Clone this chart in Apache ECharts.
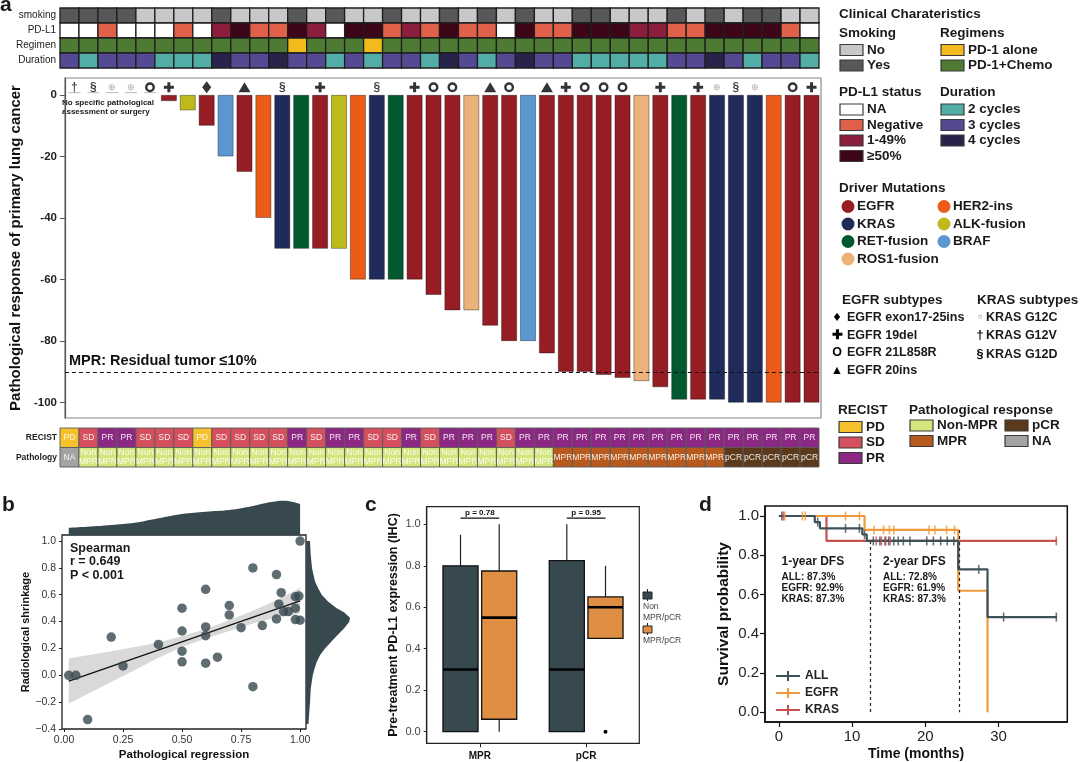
<!DOCTYPE html>
<html><head><meta charset="utf-8">
<script src="https://cdn.jsdelivr.net/npm/echarts@6/dist/echarts.min.js"></script>
<style>html,body{margin:0;padding:0;background:#fff}#c{width:1080px;height:762px}</style>
</head><body><div id="c"></div>
<script>
const FONT = 'Arial, "Liberation Sans", Helvetica, sans-serif';

// ================= Panel a data =================
const patients = ['P01','P02','P03','P04','P05','P06','P07','P08','P09','P10','P11','P12','P13','P14','P15','P16','P17','P18','P19','P20',
                  'P21','P22','P23','P24','P25','P26','P27','P28','P29','P30','P31','P32','P33','P34','P35','P36','P37','P38','P39','P40'];
const clinRowLabels = ['smoking','PD-L1','Regimen','Duration'];
const smoking = ['Yes','Yes','Yes','Yes','No','No','No','No','Yes','No','No','No','Yes','No','Yes','No','No','Yes','No','No',
                 'Yes','No','Yes','No','Yes','No','No','Yes','Yes','No','No','No','Yes','No','Yes','No','Yes','Yes','No','No'];
const pdl1 = ['NA','NA','Neg','NA','NA','NA','Neg','NA','Low','High','Neg','Neg','High','Low','NA','High','High','Neg','Low','Neg',
              'High','Neg','Neg','NA','High','Neg','Neg','High','High','High','Low','Low','Neg','Neg','High','High','High','High','Neg','NA'];
const regimen = ['Chemo','Chemo','Chemo','Chemo','Chemo','Chemo','Chemo','Chemo','Chemo','Chemo','Chemo','Chemo','Alone','Chemo','Chemo','Chemo','Alone','Chemo','Chemo','Chemo',
                 'Chemo','Chemo','Chemo','Chemo','Chemo','Chemo','Chemo','Chemo','Chemo','Chemo','Chemo','Chemo','Chemo','Chemo','Chemo','Chemo','Chemo','Chemo','Chemo','Chemo'];
const duration = [3,2,3,3,3,2,2,2,4,3,3,4,3,3,2,3,2,3,3,2,
                  4,3,2,3,4,3,3,2,2,2,2,2,3,3,4,3,2,3,3,2];
const recistRowLabels = ['RECIST','Pathology'];
const recist = ['PD','SD','PR','PR','SD','SD','SD','PD','SD','SD','SD','SD','PR','SD','PR','PR','SD','SD','PR','SD',
                'PR','PR','PR','SD','PR','PR','PR','PR','PR','PR','PR','PR','PR','PR','PR','PR','PR','PR','PR','PR'];
const pathology = ['NA','Non','Non','Non','Non','Non','Non','Non','Non','Non','Non','Non','Non','Non','Non','Non','Non','Non','Non','Non',
                   'Non','Non','Non','Non','Non','Non','MPR','MPR','MPR','MPR','MPR','MPR','MPR','MPR','MPR','pCR','pCR','pCR','pCR','pCR'];
const mutation = [null,null,null,null,null,'EGFR','ALK','EGFR','BRAF','EGFR','HER2','KRAS','RET','EGFR','ALK','HER2','KRAS','RET','EGFR','EGFR',
                  'EGFR','ROS1','EGFR','EGFR','BRAF','EGFR','EGFR','EGFR','EGFR','EGFR','ROS1','EGFR','RET','EGFR','KRAS','KRAS','KRAS','HER2','EGFR','EGFR'];
const response = [null,null,null,null,null,-2,-5,-10,-20,-25,-40,-50,-50,-50,-50,-60,-60,-60,-60,-65,
                  -70,-70,-75,-80,-80,-84,-90,-90,-91,-92,-93,-95,-99,-99,-99,-100,-100,-100,-100,-100];
const subtype = ['dagger','section','g12c','g12c','ring','plus',null,'diamond',null,'triangle',null,'section',null,'plus',null,null,'section',null,'plus','ring',
                 'ring',null,'triangle','ring',null,'triangle','plus','ring','ring','ring',null,'plus',null,'plus','g12c','section','g12c',null,'ring','plus'];
const MPR_THRESHOLD = -90;
const waterfallTicks = [-100,-80,-60,-40,-20,0];

// ================= Panel b data =================
const regX = [0.02,0.05,0.10,0.20,0.25,0.40,0.50,0.50,0.50,0.50,0.60,0.60,0.60,0.60,0.65,0.70,0.70,0.75,0.80,0.80,0.84,0.90,0.90,0.91,0.92,0.93,0.95,0.98,0.98,0.995,0.98,1.0,1.0];
const regY = [0.0,0.0,-0.33,0.285,0.07,0.23,0.50,0.33,0.18,0.10,0.64,0.36,0.295,0.09,0.135,0.52,0.45,0.355,0.80,-0.085,0.37,0.75,0.42,0.53,0.615,0.475,0.475,0.50,0.585,0.59,0.415,0.41,1.0];
const fitX = [0.02,1.0];
const fitY = [-0.043,0.555];
const bandX = [0.02,0.1,0.2,0.3,0.4,0.5,0.6,0.7,0.8,0.9,1.0];
const bandUpper = [0.125,0.15,0.18,0.21,0.245,0.29,0.345,0.41,0.48,0.56,0.65];
const bandLower = [-0.21,-0.14,-0.05,0.04,0.13,0.21,0.275,0.33,0.385,0.43,0.46];
const topDensX = [0.02,0.1,0.2,0.3,0.4,0.5,0.6,0.7,0.8,0.87,0.93,0.97,1.0];
const topDensV = [7.3,8.3,10,12.3,16.7,21,23.3,25,29,32.7,34.3,33,31];
const rightDensY = [1.0,0.9,0.8,0.7,0.65,0.6,0.55,0.5,0.47,0.43,0.4,0.35,0.3,0.25,0.2,0.15,0.1,0.05,0.0,-0.1,-0.2,-0.3,-0.36];
const rightDensV = [4,4.7,6,9,12,15.7,22,30.7,38,44,43.3,38,31.3,25,19,14,10.7,8.5,6.7,4.7,4,3,2.5];
const regXTicks = [0,0.25,0.5,0.75,1];
const regYTicks = [-0.4,-0.2,0,0.2,0.4,0.6,0.8,1.0];

// ================= Panel c data =================
const boxCats = ['MPR','pCR'];
const boxGroups = ['Non\nMPR/pCR','MPR/pCR'];
// [min, Q1, median, Q3, max]
const boxNon = [[0,0,0.30,0.80,0.95],[0,0,0.30,0.825,1.0]];
const boxMpr = [[0,0.06,0.55,0.775,1.0],[0.45,0.45,0.60,0.65,0.80]];
const boxOutliers = [[1,1,0.0]];
const pvals = ['p = 0.78','p = 0.95'];
const PBAR_Y = 1.03;
const boxYTicks = [0,0.2,0.4,0.6,0.8,1.0];

// ================= Panel d data =================
const kmAll = [[0,1],[4.9,0.969],[5.6,0.937],[11.4,0.906],[12.0,0.873],[24.5,0.728],[28.5,0.485],[38.0,0.485]];
const kmEgfr = [[0,1],[11.7,0.929],[24.5,0.619],[28.5,0.0]];
const kmKras = [[0,1],[6.5,0.873],[38.0,0.873]];
const censAll = [[0.4,1],[5.3,0.969],[9.1,0.937],[11.0,0.937],[11.7,0.906],[12.9,0.873],[13.8,0.873],[14.5,0.873],[15.0,0.873],[15.7,0.873],[16.3,0.873],[17.0,0.873],[17.9,0.873],[20.2,0.873],[21.1,0.873],[22.1,0.873],[23.0,0.873],[23.9,0.873],[27.3,0.728],[30.7,0.485],[37.9,0.485]];
const censEgfr = [[0.8,1],[3.2,1],[3.6,1],[9.1,1],[11.0,1],[13.0,0.929],[14.3,0.929],[15.1,0.929],[15.7,0.929],[20.5,0.929],[21.3,0.929],[22.9,0.929],[24.0,0.929]];
const censKras = [[0.6,1],[13.3,0.873],[14.0,0.873],[14.6,0.873],[15.2,0.873],[37.9,0.873]];
const landmarks = [[12.5,0.873],[24.6,0.929]];
const kmXTicks = [0,10,20,30];
const kmYTicks = [0,0.2,0.4,0.6,0.8,1.0];
const dfs1 = ['1-year DFS','ALL: 87.3%','EGFR: 92.9%','KRAS: 87.3%'];
const dfs2 = ['2-year DFS','ALL: 72.8%','EGFR: 61.9%','KRAS: 87.3%'];

// ================= Colours =================
const COLORS = {
  smoking: {No:'#C8C8C8', Yes:'#585858'},
  pdl1: {NA:'#FFFFFF', Neg:'#E1604A', Low:'#8C1D3C', High:'#3D0518'},
  regimen: {Alone:'#F3BA1E', Chemo:'#4E7B33'},
  duration: {2:'#51ADA6', 3:'#534A93', 4:'#27234A'},
  recist: {PD:'#F5C12C', SD:'#D4505F', PR:'#8D2784'},
  pathology: {Non:'#D4E57B', MPR:'#B85A1D', pCR:'#5B3A1B', NA:'#A3A3A3'},
  mutation: {EGFR:'#961D23', KRAS:'#1F2B5B', RET:'#03592F', ROS1:'#EBB27A', HER2:'#EA5C18', ALK:'#BEBA1B', BRAF:'#5D97D1'}
};
const SLATE = '#37494F', ORANGE = '#DF8F44';
const KM_COL = {ALL:'#3E5158', EGFR:'#EE9A3A', KRAS:'#C8504F'};

// ================= Legend definitions =================
const legSmoking = [['No','No'],['Yes','Yes']];
const legRegimen = [['PD-1 alone','Alone'],['PD-1+Chemo','Chemo']];
const legPdl1 = [['NA','NA'],['Negative','Neg'],['1-49%','Low'],['≥50%','High']];
const legDuration = [['2 cycles',2],['3 cycles',3],['4 cycles',4]];
const legMut = [['EGFR','EGFR',0,0],['HER2-ins','HER2',1,0],['KRAS','KRAS',0,1],['ALK-fusion','ALK',1,1],['RET-fusion','RET',0,2],['BRAF','BRAF',1,2],['ROS1-fusion','ROS1',0,3]];
const legEgfrSub = [['♦','EGFR exon17-25ins',14],['✚','EGFR 19del',13],['O','EGFR 21L858R',12.5],['▲','EGFR 20ins',12.5]];
const legKrasSub = [['◦','KRAS G12C',14],['†','KRAS G12V',12.5],['§','KRAS G12D',12.5]];
const legRecist = [['PD','PD'],['SD','SD'],['PR','PR']];
const legPath = [['Non-MPR','Non',0,0],['MPR','MPR',0,1],['pCR','pCR',1,0],['NA','NA',1,1]];

// ================= Graphic helpers =================
const G = [];
function txt(x, y, s, size, weight, color, align, lh) {
  G.push({type:'text', x:x, y:y, silent:true, style:{text:s, fontSize:size, fontWeight:weight||'bold', fontFamily:FONT,
    fill:color||'#1a1a1a', align:align||'left', textAlign:align||'left', verticalAlign:'middle', textVerticalAlign:'middle', lineHeight:lh}});
}
function box(x, y, color) {
  G.push({type:'rect', silent:true, shape:{x:x, y:y-5.5, width:23, height:11}, style:{fill:color, stroke:'#3a3a3a', lineWidth:1.2}});
}
function boxList(hx, hy, title, items, pal) {
  txt(hx, hy, title, 13.5);
  items.forEach((it, k) => { const y = hy + 17 + 15.5*k; box(hx+1, y, pal[it[1]]); txt(hx+28, y, it[0], 13.5); });
}
txt(839, 14, 'Clinical Charateristics', 13.5);
boxList(839, 33, 'Smoking', legSmoking, COLORS.smoking);
boxList(940, 33, 'Regimens', legRegimen, COLORS.regimen);
boxList(839, 92.5, 'PD-L1 status', legPdl1, COLORS.pdl1);
boxList(940, 92.5, 'Duration', legDuration, COLORS.duration);
txt(839, 188, 'Driver Mutations', 13.5);
legMut.forEach(m => {
  const cx = m[2] ? 944 : 848, cy = 206.5 + 17.5*m[3];
  G.push({type:'circle', silent:true, shape:{cx:cx, cy:cy, r:6.5}, style:{fill:COLORS.mutation[m[1]]}});
  txt(cx+9, cy, m[0], 13.5);
});
txt(842, 300, 'EGFR subtypes', 13.5);
legEgfrSub.forEach((s, k) => { const y = 317.5 + 17.7*k; txt(837, y, s[0], s[2], 'bold', '#000', 'center'); txt(847, y, s[1], 12.5); });
txt(977, 300, 'KRAS subtypes', 13.5);
legKrasSub.forEach((s, k) => { const y = 317.5 + 18.3*k; txt(980, y, s[0], s[2], 'bold', s[0]==='◦'?'#999':'#000', 'center'); txt(986, y, s[1], 12.5); });
boxList(838, 410, 'RECIST', legRecist, COLORS.recist);
txt(909, 410, 'Pathological response', 13.5);
legPath.forEach(p => { const x = p[2] ? 1005 : 910, y = 425.5 + 15.5*p[3]; box(x, y, COLORS.pathology[p[1]]); txt(x+27, y, p[0], 13.5); });

// panel letters
txt(0, 5, 'a', 21); txt(2, 505, 'b', 21); txt(365, 505, 'c', 21); txt(699, 505, 'd', 21);
// waterfall annotation
txt(62, 103, 'No specific pathological', 8); txt(62, 112, 'assessment or surgery', 8);
// panel b stats
txt(70, 548.5, 'Spearman', 12.5); txt(70, 562, 'r = 0.649', 12.5); txt(70, 575.5, 'P < 0.001', 12.5);
// panel c legend
G.push({type:'line', silent:true, shape:{x1:647.5,y1:589,x2:647.5,y2:601}, style:{stroke:'#222', lineWidth:1}});
G.push({type:'rect', silent:true, shape:{x:643,y:592,width:9,height:7}, style:{fill:SLATE, stroke:'#222', lineWidth:1}});
txt(643, 607, 'Non', 8.5, 'normal', '#444'); txt(643, 617.5, 'MPR/pCR', 8.5, 'normal', '#444');
G.push({type:'line', silent:true, shape:{x1:647.5,y1:623,x2:647.5,y2:635}, style:{stroke:'#222', lineWidth:1}});
G.push({type:'rect', silent:true, shape:{x:643,y:626,width:9,height:7}, style:{fill:ORANGE, stroke:'#222', lineWidth:1}});
txt(643, 641, 'MPR/pCR', 8.5, 'normal', '#444');
// panel d DFS notes
[[dfs1, 781.5],[dfs2, 883]].forEach(d => {
  txt(d[1], 562, d[0][0], 12);
  d[0].slice(1).forEach((s, k) => txt(d[1], 577.5 + 11*k, s, 10));
});

// ================= Series =================
const series = [];

// clinical heatmap tiles
const clinVals = [smoking, pdl1, regimen, duration];
const clinPal = [COLORS.smoking, COLORS.pdl1, COLORS.regimen, COLORS.duration];
const clinData = [], clinFill = [];
clinVals.forEach((arr, r) => arr.forEach((v, c) => { clinData.push([c, r]); clinFill.push(clinPal[r][v]); }));
series.push({type:'custom', name:'clinical', xAxisIndex:0, yAxisIndex:0, data:clinData, encode:{x:0,y:1}, silent:true,
  renderItem:(params, api) => {
    const p = api.coord([api.value(0), api.value(1)]), s = api.size([1,1]);
    return {type:'rect', shape:{x:p[0]-s[0]/2, y:p[1]-s[1]/2, width:s[0], height:s[1]}, style:{fill:clinFill[params.dataIndex], stroke:'#1e1e1e', lineWidth:1.3}};
  }});

// RECIST / pathology tiles
const recVals = [recist, pathology];
const recPal = [COLORS.recist, COLORS.pathology];
const cellText = {PD:'PD', SD:'SD', PR:'PR', Non:'Non\nMPR', MPR:'MPR', pCR:'pCR', NA:'NA'};
const recData = [], recFill = [], recText = [];
recVals.forEach((arr, r) => arr.forEach((v, c) => { recData.push([c, r]); recFill.push(recPal[r][v]); recText.push(cellText[v]); }));
series.push({type:'custom', name:'recist', xAxisIndex:2, yAxisIndex:2, data:recData, encode:{x:0,y:1}, silent:true,
  renderItem:(params, api) => {
    const p = api.coord([api.value(0), api.value(1)]), s = api.size([1,1]);
    const t = recText[params.dataIndex];
    return {type:'group', children:[
      {type:'rect', shape:{x:p[0]-s[0]/2, y:p[1]-s[1]/2, width:s[0], height:s[1]}, style:{fill:recFill[params.dataIndex], stroke:'#5a5a5a', lineWidth:0.9}},
      {type:'text', x:p[0], y:p[1], style:{text:t, fontSize:8.5, fontFamily:FONT, fill:'rgba(255,255,255,0.9)', lineHeight:8.5,
        align:'center', textAlign:'center', verticalAlign:'middle', textVerticalAlign:'middle'}}
    ]};
  }});

// waterfall bars
series.push({type:'bar', name:'response', xAxisIndex:1, yAxisIndex:1, barWidth:'84%', silent:true,
  data: response.map((v, i) => v == null ? '-' : {value:v, itemStyle:{color:COLORS.mutation[mutation[i]]}}),
  itemStyle:{borderColor:'rgba(0,0,0,0.45)', borderWidth:0.8},
  markLine:{silent:true, symbol:'none', lineStyle:{type:[4,3], color:'#111', width:1.2},
    label:{show:true, position:'insideStartTop', distance:[4,3], formatter:'MPR: Residual tumor ≤10%', fontWeight:'bold', fontSize:14.5, fontFamily:FONT, color:'#111'},
    data:[{yAxis:MPR_THRESHOLD}]}
});

// subtype symbols above bars
const SYMBOL_Y = 2.5, UNDERLINE_Y = 0.75;
const symStyle = {
  plus: {symbol:'path://M3.5,0H6.5V3.5H10V6.5H6.5V10H3.5V6.5H0V3.5H3.5Z', symbolSize:10, itemStyle:{color:'#000'}},
  ring: {symbol:'circle', symbolSize:7.5, itemStyle:{color:'#fff', borderColor:'#000', borderWidth:2.4}},
  triangle: {symbol:'triangle', symbolSize:[12,10], itemStyle:{color:'#000'}},
  diamond: {symbol:'diamond', symbolSize:[9,12], itemStyle:{color:'#000'}},
  dagger: {symbol:'circle', symbolSize:1, itemStyle:{color:'rgba(0,0,0,0)'}, label:{show:true, position:'inside', formatter:'†', fontSize:12, fontWeight:'bold', color:'#111'}},
  section: {symbol:'circle', symbolSize:1, itemStyle:{color:'rgba(0,0,0,0)'}, label:{show:true, position:'inside', formatter:'§', fontSize:12, fontWeight:'bold', color:'#111'}},
  g12c: {symbol:'circle', symbolSize:1, itemStyle:{color:'rgba(0,0,0,0)'}, label:{show:true, position:'inside', formatter:'⊕', fontSize:9, color:'#999'}}
};
series.push({type:'scatter', name:'subtype', xAxisIndex:1, yAxisIndex:1, silent:true, z:5,
  data: subtype.map((s, i) => s ? Object.assign({value:[i, SYMBOL_Y]}, symStyle[s]) : null).filter(d => d)});
// grey underline beneath symbols of patients without pathological assessment
series.push({type:'scatter', name:'noassess', xAxisIndex:1, yAxisIndex:1, silent:true, z:4, symbol:'rect', symbolSize:[12,1],
  itemStyle:{color:'#aaa'},
  data: response.map((v, i) => v == null ? [i, UNDERLINE_Y] : null).filter(d => d)});

// ---- panel b ----
const bandPts = bandX.map((x, i) => [x, bandUpper[i]]).concat(bandX.map((x, i) => [x, bandLower[i]]).reverse());
function polygonSeries(xi, yi, pts, color) {
  return {type:'custom', xAxisIndex:xi, yAxisIndex:yi, data:pts, encode:{x:0,y:1}, silent:true,
    renderItem:(params, api) => params.dataIndex === 0 ? {type:'polygon', shape:{points:pts.map(p => api.coord(p))}, style:{fill:color}} : null};
}
series.push(Object.assign(polygonSeries(3, 3, bandPts, '#D9D9D9'), {z:1}));
series.push({type:'line', xAxisIndex:3, yAxisIndex:3, data:fitX.map((x, i) => [x, fitY[i]]), symbol:'none', silent:true, z:2,
  lineStyle:{color:'#111', width:1.3}});
series.push({type:'scatter', xAxisIndex:3, yAxisIndex:3, data:regX.map((x, i) => [x, regY[i]]), symbolSize:9.5, silent:true, z:3,
  itemStyle:{color:SLATE}});
series.push({type:'line', xAxisIndex:4, yAxisIndex:4, data:topDensX.map((x, i) => [x, topDensV[i]]), smooth:0.4, symbol:'none', silent:true,
  lineStyle:{width:0}, areaStyle:{color:SLATE, opacity:1}});
const rightPts = [[0, rightDensY[0]]].concat(rightDensY.map((y, i) => [rightDensV[i], y]), [[0, rightDensY[rightDensY.length-1]]]);
series.push(polygonSeries(5, 5, rightPts, SLATE));

// ---- panel c ----
const boxData = [];
boxCats.forEach((c, ci) => { boxData.push([ci, 0].concat(boxNon[ci])); boxData.push([ci, 1].concat(boxMpr[ci])); });
const groupColors = [SLATE, ORANGE];
const DODGE = 0.182, BOXW = 0.33;
series.push({type:'custom', xAxisIndex:6, yAxisIndex:6, data:boxData, encode:{x:0, y:[2,3,4,5,6]}, silent:true,
  renderItem:(params, api) => {
    const cat = api.value(0), g = api.value(1), bw = api.size([1,0])[0];
    const cx = api.coord([cat, 0])[0] + (g === 0 ? -1 : 1) * bw * DODGE, w = bw * BOXW;
    const y = v => api.coord([cat, v])[1];
    const mn = api.value(2), q1 = api.value(3), md = api.value(4), q3 = api.value(5), mx = api.value(6);
    return {type:'group', children:[
      {type:'line', shape:{x1:cx, y1:y(mx), x2:cx, y2:y(q3)}, style:{stroke:'#222', lineWidth:1.2}},
      {type:'line', shape:{x1:cx, y1:y(q1), x2:cx, y2:y(mn)}, style:{stroke:'#222', lineWidth:1.2}},
      {type:'rect', shape:{x:cx-w/2, y:y(q3), width:w, height:y(q1)-y(q3)}, style:{fill:groupColors[g], stroke:'#111', lineWidth:1.3}},
      {type:'line', shape:{x1:cx-w/2, y1:y(md), x2:cx+w/2, y2:y(md)}, style:{stroke:'#000', lineWidth:2.6}}
    ]};
  }});
series.push({type:'custom', xAxisIndex:6, yAxisIndex:6, data:boxOutliers, encode:{x:0, y:2}, silent:true,
  renderItem:(params, api) => {
    const cat = api.value(0), g = api.value(1), bw = api.size([1,0])[0];
    const p = api.coord([cat, api.value(2)]);
    return {type:'circle', shape:{cx:p[0] + (g === 0 ? -1 : 1) * bw * DODGE, cy:p[1], r:2}, style:{fill:'#000'}};
  }});
series.push({type:'custom', xAxisIndex:6, yAxisIndex:6, data:boxCats.map((c, i) => [i, PBAR_Y]), encode:{x:0, y:1}, silent:true,
  renderItem:(params, api) => {
    const bw = api.size([1,0])[0], p = api.coord([api.value(0), api.value(1)]);
    return {type:'group', children:[
      {type:'line', shape:{x1:p[0]-bw*DODGE, y1:p[1], x2:p[0]+bw*DODGE, y2:p[1]}, style:{stroke:'#111', lineWidth:1.2}},
      {type:'text', x:p[0], y:p[1]-5, style:{text:pvals[params.dataIndex], fontSize:8, fontWeight:'bold', fontFamily:FONT, fill:'#111',
        align:'center', textAlign:'center', verticalAlign:'middle', textVerticalAlign:'middle'}}
    ]};
  }});

// ---- panel d ----
[['ALL', kmAll, censAll], ['EGFR', kmEgfr, censEgfr], ['KRAS', kmKras, censKras]].forEach((k, idx) => {
  const s = {type:'line', name:k[0], xAxisIndex:7, yAxisIndex:7, data:k[1], step:'end', symbol:'none', silent:true,
    itemStyle:{color:KM_COL[k[0]]}, lineStyle:{color:KM_COL[k[0]], width:2.2}, z:3 + (2 - idx)};
  if (idx === 0) {
    s.markLine = {silent:true, symbol:'none', label:{show:false}, lineStyle:{type:[3,3], color:'#222', width:1.2},
      data: landmarks.map(l => [{coord:[l[0], l[1]]}, {coord:[l[0], 0]}])};
  }
  series.push(s);
  series.push({type:'scatter', name:k[0], xAxisIndex:7, yAxisIndex:7, data:k[2], symbol:'rect', symbolSize:[1.6, 9], silent:true,
    itemStyle:{color:KM_COL[k[0]]}, z:6});
});

// ================= Axes =================
const hidden = {show:false, axisLine:{show:false, onZero:false}};
const lbl = (size, color, weight) => ({fontSize:size, color:color, fontWeight:weight || 'normal', fontFamily:FONT});
const xAxis = [
  Object.assign({type:'category', gridIndex:0, data:patients}, hidden),
  Object.assign({type:'category', gridIndex:1, data:patients}, hidden),
  Object.assign({type:'category', gridIndex:2, data:patients}, hidden),
  {type:'value', gridIndex:3, min:-0.0085, max:1.025, splitLine:{show:false},
    axisLine:{show:false, onZero:false}, axisTick:{show:true, length:3, customValues:regXTicks, lineStyle:{color:'#222'}},
    axisLabel:Object.assign({customValues:regXTicks, margin:6, formatter:v => v.toFixed(2)}, lbl(10.5, '#333')),
    name:'Pathological regression', nameLocation:'middle', nameGap:20, nameTextStyle:lbl(11.5, '#111', 'bold')},
  Object.assign({type:'value', gridIndex:4, min:-0.0085, max:1.025}, hidden),
  Object.assign({type:'value', gridIndex:5, min:0, max:46}, hidden),
  {type:'category', gridIndex:6, data:boxCats, axisLine:{onZero:false, lineStyle:{color:'#222', width:1.2}},
    axisTick:{show:true, alignWithLabel:true, length:4, lineStyle:{color:'#222'}},
    axisLabel:Object.assign({margin:8}, lbl(10, '#111', 'bold'))},
  {type:'value', gridIndex:7, min:-1.9, max:39.4, splitLine:{show:false},
    axisLine:{onZero:false, lineStyle:{color:'#111', width:1.5}}, axisTick:{show:true, length:5, customValues:kmXTicks, lineStyle:{color:'#111', width:1.2}},
    axisLabel:Object.assign({customValues:kmXTicks, margin:7}, lbl(15, '#222')),
    name:'Time (months)', nameLocation:'middle', nameGap:25, nameTextStyle:lbl(14, '#111', 'bold')}
];
const yAxis = [
  {type:'category', gridIndex:0, data:clinRowLabels, inverse:true, axisLine:{show:false}, axisTick:{show:false},
    axisLabel:Object.assign({margin:4}, lbl(10, '#222'))},
  {type:'value', gridIndex:1, min:-105, max:5.5, splitLine:{show:false},
    axisLine:{show:true, onZero:false, lineStyle:{color:'#555', width:1.2}}, axisTick:{show:true, length:5, customValues:waterfallTicks, lineStyle:{color:'#555'}},
    axisLabel:Object.assign({customValues:waterfallTicks, margin:8}, lbl(11.5, '#222', 'bold')),
    name:'Pathological response of primary lung cancer', nameLocation:'middle', nameGap:33, nameTextStyle:lbl(15, '#111', 'bold')},
  {type:'category', gridIndex:2, data:recistRowLabels, inverse:true, axisLine:{show:false}, axisTick:{show:false},
    axisLabel:Object.assign({margin:3}, lbl(8.5, '#222', 'bold'))},
  {type:'value', gridIndex:3, min:-0.4, max:1.045, splitLine:{show:false},
    axisLine:{show:false, onZero:false}, axisTick:{show:true, length:3, customValues:regYTicks, lineStyle:{color:'#222'}},
    axisLabel:Object.assign({customValues:regYTicks, margin:6, formatter:v => v.toFixed(1).replace('-', '−')}, lbl(10.5, '#333')),
    name:'Radiological shrinkage', nameLocation:'middle', nameGap:29, nameTextStyle:lbl(11, '#111', 'bold')},
  Object.assign({type:'value', gridIndex:4, min:0, max:35}, hidden),
  Object.assign({type:'value', gridIndex:5, min:-0.4, max:1.045}, hidden),
  {type:'value', gridIndex:6, min:-0.056, max:1.085, splitLine:{show:false},
    axisLine:{show:true, onZero:false, lineStyle:{color:'#222', width:1.2}}, axisTick:{show:true, length:3, customValues:boxYTicks, lineStyle:{color:'#222'}},
    axisLabel:Object.assign({customValues:boxYTicks, margin:6, formatter:v => v.toFixed(1)}, lbl(11, '#444')),
    name:'Pre-treatment PD-L1 expression (IHC)', nameLocation:'middle', nameGap:27, nameTextStyle:lbl(12.5, '#111', 'bold')},
  {type:'value', gridIndex:7, min:-0.05, max:1.051, splitLine:{show:false},
    axisLine:{show:true, onZero:false, lineStyle:{color:'#111', width:1.5}}, axisTick:{show:true, length:5, customValues:kmYTicks, lineStyle:{color:'#111', width:1.2}},
    axisLabel:Object.assign({customValues:kmYTicks, margin:6, formatter:v => v.toFixed(1)}, lbl(15, '#222')),
    name:'Survival probability', nameLocation:'middle', nameGap:33, nameTextStyle:lbl(15.5, '#111', 'bold')}
];

const option = {
  animation:false,
  backgroundColor:'#fff',
  textStyle:{fontFamily:FONT},
  grid:[
    {left:60, width:759, top:8, height:60},
    {left:58, width:763, top:78, height:340, show:true, borderColor:'#8a8a8a', borderWidth:1.2},
    {left:60, width:759, top:428, height:39},
    {left:62, width:244, top:535, height:194.3, show:true, borderColor:'#222', borderWidth:1.3},
    {left:62, width:244, top:500, height:35},
    {left:306, width:46, top:535, height:194.3},
    {left:426.7, width:212.6, top:506.7, height:236.6, show:true, borderColor:'#222', borderWidth:1.2},
    {left:765, width:302.3, top:506, height:216.7, show:true, borderColor:'#111', borderWidth:1.5}
  ],
  xAxis:xAxis,
  yAxis:yAxis,
  legend:{data:['ALL','EGFR','KRAS'], orient:'vertical', left:771, top:665, itemWidth:24, itemHeight:10, itemGap:5, selectedMode:false,
    icon:'path://M0,4H24V6H0Z M11,0H13V10H11Z', textStyle:{fontWeight:'bold', fontSize:12, fontFamily:FONT, color:'#222', lineHeight:12}},
  graphic:{elements:G},
  series:series
};
const chart = echarts.init(document.getElementById('c'), null, {renderer:'canvas'});
chart.setOption(option);
</script>
</body></html>
